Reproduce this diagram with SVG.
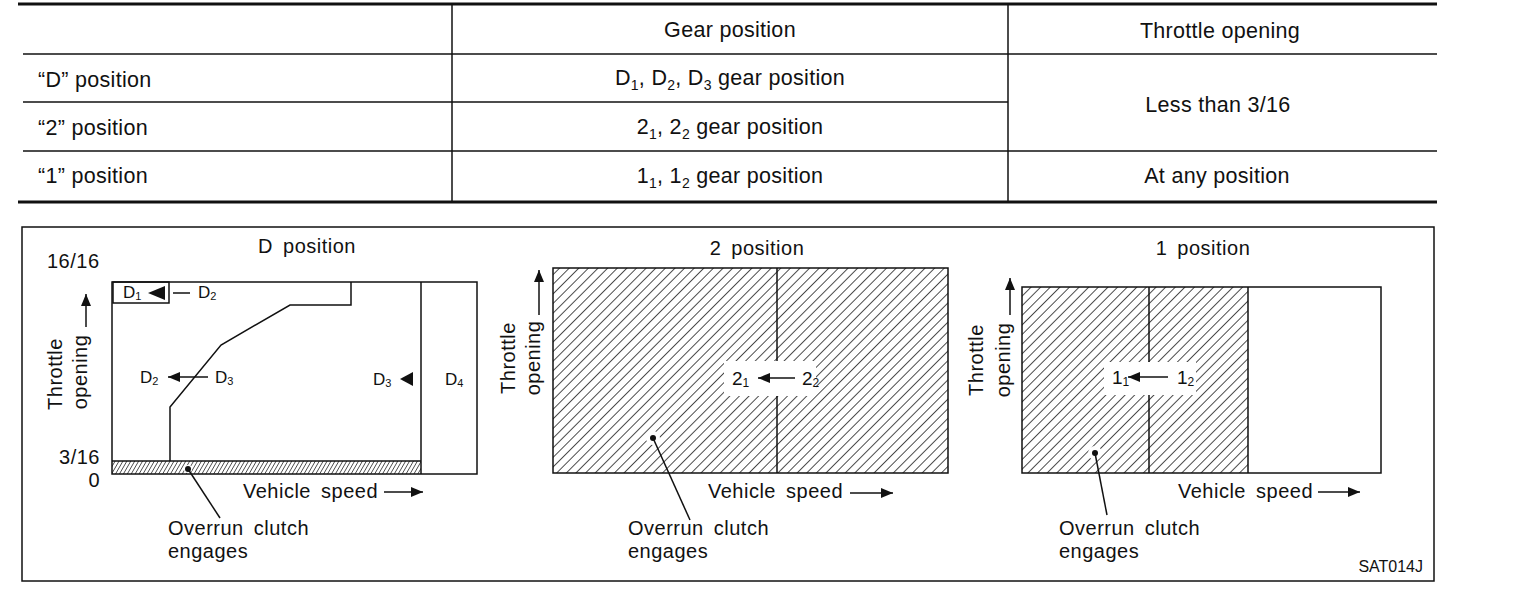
<svg xmlns="http://www.w3.org/2000/svg" width="1520" height="604" viewBox="0 0 1520 604">
<style>
text{font-family:"Liberation Sans",Arial,sans-serif;fill:#111}
.t{font-size:21.5px;letter-spacing:0.3px}
.c{font-size:20px;word-spacing:4px;letter-spacing:0.5px}
.l{font-size:17px}
.ln{stroke:#111;stroke-width:1.5;fill:none}
.th{stroke:#111;stroke-width:3;fill:none}
.sub{font-size:14px}
</style>
<defs>
<pattern id="hatch" patternUnits="userSpaceOnUse" width="6.8" height="10" patternTransform="rotate(45)">
<line x1="0" y1="0" x2="0" y2="10" stroke="#111" stroke-width="1.5"/>
</pattern>
<pattern id="dense" patternUnits="userSpaceOnUse" width="3.4" height="10" patternTransform="rotate(30)">
<line x1="0" y1="0" x2="0" y2="10" stroke="#111" stroke-width="1.3"/>
</pattern>
<marker id="ah" viewBox="0 0 12 10" refX="12" refY="5" markerWidth="12" markerHeight="10" orient="auto" markerUnits="userSpaceOnUse">
<path d="M0,0 L12,5 L0,10 z" fill="#111"/>
</marker>
</defs>

<g id="table">
<line class="th" x1="18" y1="4" x2="1437" y2="4"/>
<line class="th" x1="18" y1="202" x2="1437" y2="202"/>
<line class="ln" x1="23" y1="54" x2="1437" y2="54"/>
<line class="ln" x1="23" y1="102" x2="1008" y2="102"/>
<line class="ln" x1="23" y1="151" x2="1437" y2="151"/>
<line class="ln" x1="452" y1="4" x2="452" y2="202"/>
<line class="ln" x1="1008" y1="4" x2="1008" y2="202"/>
<text class="t" x="730" y="37" text-anchor="middle">Gear position</text>
<text class="t" x="1220" y="38" text-anchor="middle">Throttle opening</text>
<text class="t" x="38" y="87">“D” position</text>
<text class="t" x="38" y="135">“2” position</text>
<text class="t" x="38" y="183">“1” position</text>
<text class="t" x="730" y="85" text-anchor="middle">D<tspan class="sub" dy="5">1</tspan><tspan dy="-5">, D</tspan><tspan class="sub" dy="5">2</tspan><tspan dy="-5">, D</tspan><tspan class="sub" dy="5">3</tspan><tspan dy="-5"> gear position</tspan></text>
<text class="t" x="730" y="134" text-anchor="middle">2<tspan class="sub" dy="5">1</tspan><tspan dy="-5">, 2</tspan><tspan class="sub" dy="5">2</tspan><tspan dy="-5"> gear position</tspan></text>
<text class="t" x="730" y="183" text-anchor="middle">1<tspan class="sub" dy="5">1</tspan><tspan dy="-5">, 1</tspan><tspan class="sub" dy="5">2</tspan><tspan dy="-5"> gear position</tspan></text>
<text class="t" x="1218" y="112" text-anchor="middle">Less than 3/16</text>
<text class="t" x="1217" y="183" text-anchor="middle">At any position</text>
</g>

<g id="frame">
<rect class="ln" x="22" y="227" width="1412" height="354"/>
<text x="1423" y="572" text-anchor="end" style="font-size:16px">SAT014J</text>
</g>

<g id="chart-d">
<text class="c" x="307" y="253" text-anchor="middle">D position</text>
<text class="c" x="47" y="268">16/16</text>
<text class="c" x="100" y="464" text-anchor="end">3/16</text>
<text class="c" x="100" y="487" text-anchor="end">0</text>
<text class="c" transform="translate(62,374) rotate(-90)" text-anchor="middle">Throttle</text>
<text class="c" transform="translate(87,372) rotate(-90)" text-anchor="middle">opening</text>
<rect x="112" y="461" width="309" height="13" fill="url(#dense)"/>
<rect class="ln" x="112" y="282" width="365" height="192"/>
<line class="ln" x1="421" y1="282" x2="421" y2="474"/>
<line class="ln" x1="112" y1="461" x2="421" y2="461"/>
<rect class="ln" x="113" y="282" width="56" height="21"/>
<polyline class="ln" stroke-width="1.8" points="351,282 351,305 290,305 221,345 170,407 170,461"/>
<text class="l" x="123" y="298">D<tspan style="font-size:11px" dy="2">1</tspan></text>
<polygon points="148,293 165,286 165,300" fill="#111"/>
<line class="ln" stroke-width="1" x1="173" y1="293" x2="190" y2="293"/>
<text class="l" x="198" y="298">D<tspan style="font-size:11px" dy="2">2</tspan></text>
<text class="l" x="140" y="383">D<tspan style="font-size:11px" dy="2">2</tspan></text>
<line class="ln" x1="208" y1="377" x2="168" y2="377" marker-end="url(#ah)"/>
<text class="l" x="215" y="383">D<tspan style="font-size:11px" dy="2">3</tspan></text>
<text class="l" x="373" y="385">D<tspan style="font-size:11px" dy="2">3</tspan></text>
<polygon points="400,379 413,372 413,386" fill="#111"/>
<text class="l" x="445" y="385">D<tspan style="font-size:11px" dy="2">4</tspan></text>
<text class="c" x="243" y="498">Vehicle speed</text>
<text class="c" x="168" y="535">Overrun clutch</text>
<text class="c" x="168" y="558">engages</text>
</g>

<g id="chart-2">
<text class="c" x="757" y="255" text-anchor="middle">2 position</text>
<text class="c" transform="translate(515,358) rotate(-90)" text-anchor="middle">Throttle</text>
<text class="c" transform="translate(540,358) rotate(-90)" text-anchor="middle">opening</text>
<rect x="553" y="268" width="395" height="205" fill="url(#hatch)"/>
<rect x="724" y="361" width="92" height="35" fill="#fff"/>
<circle cx="653" cy="438" r="7" fill="#fff"/>
<rect class="ln" x="553" y="268" width="395" height="205"/>
<line class="ln" x1="777" y1="268" x2="777" y2="361"/>
<line class="ln" x1="777" y1="396" x2="777" y2="473"/>
<text x="732" y="385" style="font-size:19px">2<tspan style="font-size:12px" dy="2">1</tspan></text>
<line class="ln" x1="795" y1="378" x2="758" y2="378" marker-end="url(#ah)"/>
<text x="802" y="385" style="font-size:19px">2<tspan style="font-size:12px" dy="2">2</tspan></text>
<text class="c" x="708" y="498">Vehicle speed</text>
<text class="c" x="628" y="535">Overrun clutch</text>
<text class="c" x="628" y="558">engages</text>
</g>

<g id="chart-1">
<text class="c" x="1203" y="255" text-anchor="middle">1 position</text>
<text class="c" transform="translate(983,360) rotate(-90)" text-anchor="middle">Throttle</text>
<text class="c" transform="translate(1010,360) rotate(-90)" text-anchor="middle">opening</text>
<rect x="1022" y="287" width="226" height="186" fill="url(#hatch)"/>
<rect x="1104" y="362" width="92" height="33" fill="#fff"/>
<circle cx="1095" cy="453" r="7" fill="#fff"/>
<rect class="ln" x="1022" y="287" width="359" height="186"/>
<line class="ln" x1="1248" y1="287" x2="1248" y2="473"/>
<line class="ln" x1="1149" y1="287" x2="1149" y2="362"/>
<line class="ln" x1="1149" y1="395" x2="1149" y2="473"/>
<text x="1112" y="384" style="font-size:19px">1<tspan style="font-size:12px" dy="2">1</tspan></text>
<line class="ln" x1="1168" y1="377" x2="1128" y2="377" marker-end="url(#ah)"/>
<text x="1177" y="384" style="font-size:19px">1<tspan style="font-size:12px" dy="2">2</tspan></text>
<text class="c" x="1178" y="498">Vehicle speed</text>
<text class="c" x="1059" y="535">Overrun clutch</text>
<text class="c" x="1059" y="558">engages</text>
</g>

<g id="connectors">
<line class="ln" x1="86" y1="327" x2="86" y2="294" marker-end="url(#ah)"/>
<line class="ln" x1="539" y1="315" x2="539" y2="270" marker-end="url(#ah)"/>
<line class="ln" x1="1010" y1="315" x2="1010" y2="278" marker-end="url(#ah)"/>
<line class="ln" x1="384" y1="492" x2="423" y2="492" marker-end="url(#ah)"/>
<line class="ln" x1="850" y1="493" x2="893" y2="493" marker-end="url(#ah)"/>
<line class="ln" x1="1318" y1="492" x2="1360" y2="492" marker-end="url(#ah)"/>
<circle cx="188" cy="469" r="4" fill="#fff"/>
<circle cx="188" cy="469" r="3" fill="#111"/>
<line class="ln" x1="188" y1="469" x2="220" y2="518"/>
<circle cx="653" cy="438" r="3" fill="#111"/>
<line class="ln" x1="653" y1="438" x2="690" y2="520"/>
<circle cx="1095" cy="453" r="3" fill="#111"/>
<line class="ln" x1="1095" y1="453" x2="1107" y2="515"/>
</g>
</svg>
